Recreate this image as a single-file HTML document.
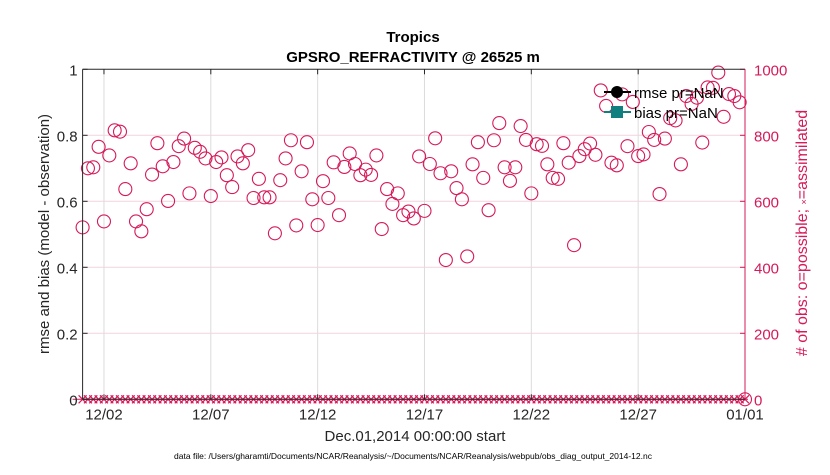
<!DOCTYPE html>
<html><head><meta charset="utf-8"><style>
body{margin:0;background:#fff;}
svg text{font-family:"Liberation Sans",Arial,sans-serif;}
</style></head><body>
<svg id="chart" width="830" height="470" xmlns="http://www.w3.org/2000/svg">
<rect width="830" height="470" fill="#fff"/>
<g id="grid"></g>
<g id="marks"></g>
<g id="axes"></g>
<text x="413" y="42" text-anchor="middle" font-size="15" font-weight="bold">Tropics</text>
<text x="413" y="62" text-anchor="middle" font-size="15" font-weight="bold">GPSRO_REFRACTIVITY @ 26525 m</text>
<text transform="translate(49,234) rotate(-90)" text-anchor="middle" font-size="15" fill="#262626">rmse and bias (model - observation)</text>
<text transform="translate(807,233) rotate(-90)" text-anchor="middle" font-size="16" fill="#d6195a"># of obs: o=possible; <tspan font-size="9">×</tspan>=assimilated</text>
<text x="415" y="441" text-anchor="middle" font-size="15" fill="#262626">Dec.01,2014 00:00:00 start</text>
<text x="413" y="459" text-anchor="middle" font-size="8.5" fill="#000">data file: /Users/gharamti/Documents/NCAR/Reanalysis/~/Documents/NCAR/Reanalysis/webpub/obs_diag_output_2014-12.nc</text>
<g>
<g>
<line x1="604" y1="92" x2="631" y2="92" stroke="#000" stroke-width="2"/>
<circle cx="617" cy="92" r="6" fill="#000"/>
<text x="634" y="98" font-size="15" fill="#000">rmse pr=NaN</text></g>
<g>
<line x1="604" y1="112" x2="631" y2="112" stroke="#0f7f7f" stroke-width="2"/>
<rect x="611" y="106" width="12" height="12" fill="#0f7f7f"/>
<text x="634" y="118" font-size="15" fill="#000">bias pr=NaN</text></g>
</g>
</svg>
<script>
const possible = [521,700,703,765,539,739,815,811,637,715,539,509,576,681,776,706,601,719,767,790,624,762,750,730,616,719,733,679,643,736,715,755,610,668,612,612,503,664,730,785,527,691,779,606,528,661,610,718,558,704,745,713,679,696,680,739,516,637,592,624,558,569,548,736,571,713,791,685,422,691,640,606,433,712,779,671,573,785,837,703,662,703,828,786,624,773,768,712,671,668,776,717,467,737,758,775,741,936,889,717,709,924,767,901,737,742,810,786,622,790,852,845,712,919,895,914,778,945,944,990,856,925,919,900,0];
const assimilated = possible.map(()=>0);
const xTickLabels = ["12/02","12/07","12/12","12/17","12/22","12/27","01/01"];
const xTickDays = [1,6,11,16,21,26,31];
const leftTicks = [0,0.2,0.4,0.6,0.8,1];
const rightTicks = [0,200,400,600,800,1000];

const L=82.6,R=745,T=69.3,B=399.3,DAYS=31;
const xs=d=>L+(R-L)*d/DAYS;
const yl=v=>B-(B-T)*v;
const yr=v=>B-(B-T)*v/1000;
const NS="http://www.w3.org/2000/svg";
function mk(tag,attrs,parent){const e=document.createElementNS(NS,tag);for(const k in attrs)e.setAttribute(k,attrs[k]);parent.appendChild(e);return e;}
const grid=document.getElementById('grid'),marks=document.getElementById('marks'),axes=document.getElementById('axes');
const RED="#d6195a";
xTickDays.forEach((d,i)=>{
 const g=mk('line',{x1:xs(d),x2:xs(d),y1:T,y2:B,stroke:'#dcdcdc','stroke-width':1},grid);
 
 
 mk('line',{x1:xs(d),x2:xs(d),y1:B,y2:B-5,stroke:'#262626'},axes);
 mk('line',{x1:xs(d),x2:xs(d),y1:T,y2:T+5,stroke:'#262626'},axes);
 const t=mk('text',{x:xs(d),y:B+20,'text-anchor':'middle','font-size':15,fill:'#262626'},axes);
 t.textContent=xTickLabels[i];
 
 
});
rightTicks.forEach(v=>{
 if(v>0&&v<1000){const g=mk('line',{x1:L,x2:R,y1:yr(v),y2:yr(v),stroke:'#f2d3dd','stroke-width':1},grid);
 
 }
 mk('line',{x1:R,x2:R-5,y1:yr(v),y2:yr(v),stroke:RED},axes);
 const t=mk('text',{x:R+9,y:yr(v)+6,'font-size':15,fill:RED},axes);
 t.textContent=v;
 
 
});
leftTicks.forEach(v=>{
 mk('line',{x1:L,x2:L+5,y1:yl(v),y2:yl(v),stroke:'#262626'},axes);
 const t=mk('text',{x:L-5,y:yl(v)+6,'text-anchor':'end','font-size':15,fill:'#262626'},axes);
 t.textContent=(v===0||v===1)?String(v):v.toFixed(1);
 
 
});
mk('line',{x1:L,x2:R,y1:T,y2:T,stroke:'#262626'},axes);
mk('line',{x1:L,x2:R,y1:B,y2:B,stroke:'#262626'},axes);
mk('line',{x1:L,x2:L,y1:T,y2:B,stroke:'#262626'},axes);
mk('line',{x1:R,x2:R,y1:T,y2:B,stroke:RED},axes);
mk('line',{x1:L-10,x2:R+3,y1:yr(0),y2:yr(0),stroke:RED,'stroke-width':1},marks);
assimilated.forEach((v,i)=>{
 const x=xs(i/4),y=yr(v);
 const p=mk('path',{d:`M${x-4},${y-4}L${x+4},${y+4}M${x-4},${y+4}L${x+4},${y-4}`,stroke:RED,'stroke-width':1.2,fill:'none'},marks);
 
 
});
possible.forEach((v,i)=>{
 const c=mk('circle',{cx:xs(i/4),cy:yr(v),r:6.5,fill:'none',stroke:RED,'stroke-width':1.1},marks);
 
 
});
</script>
</body></html>
